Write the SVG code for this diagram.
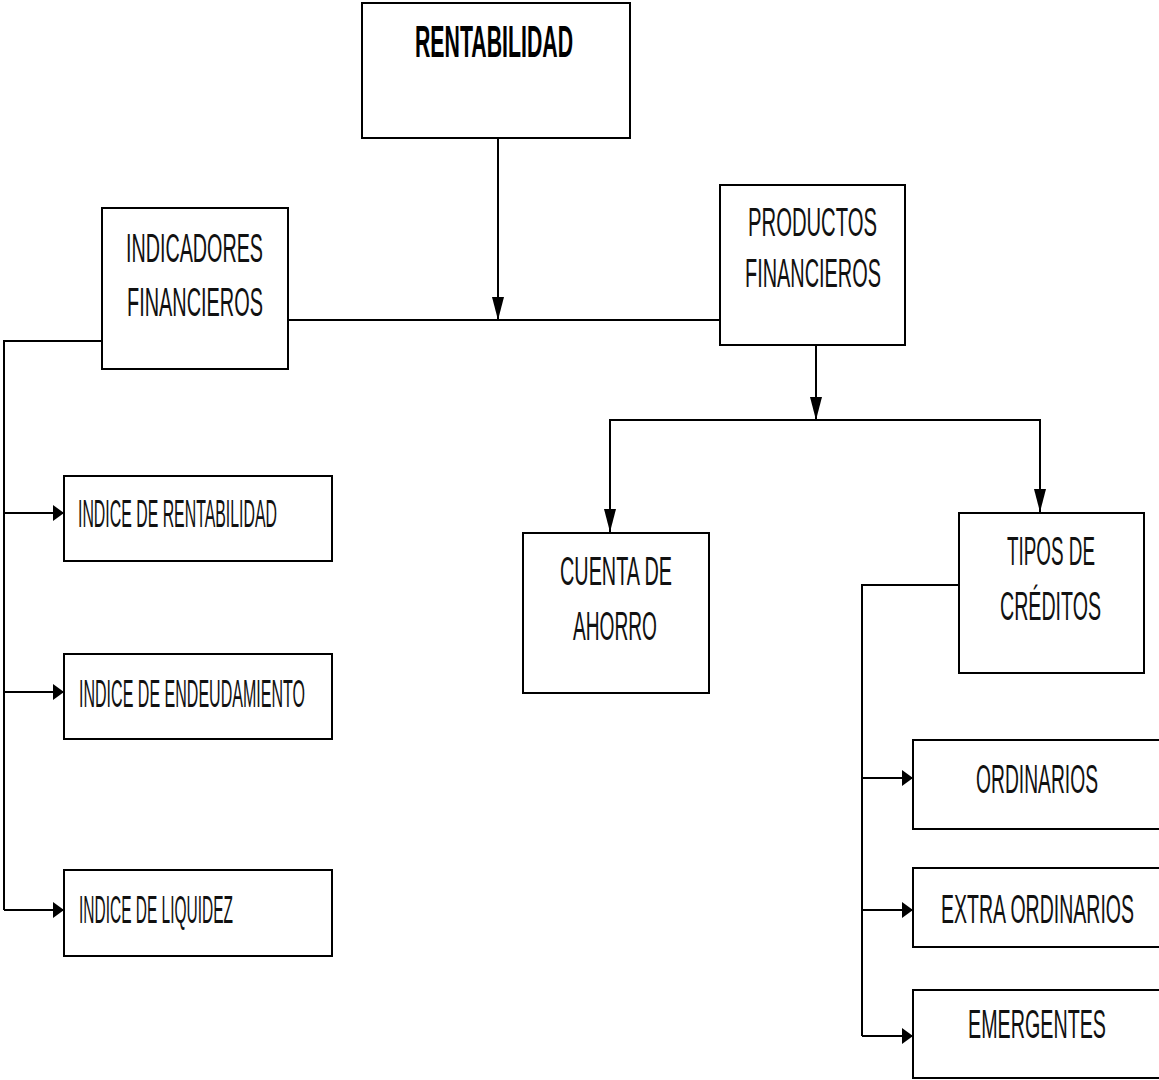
<svg xmlns="http://www.w3.org/2000/svg" width="1159" height="1080" viewBox="0 0 1159 1080">
<style>
.box{fill:#fff;stroke:#000;stroke-width:2}
.t{font-family:"Liberation Sans",Arial,sans-serif;fill:#111;font-size:41px}
.s{font-family:"Liberation Sans",Arial,sans-serif;fill:#111;font-size:38px}
.b{font-family:"Liberation Sans",Arial,sans-serif;fill:#000;font-size:44px;font-weight:bold}
.ln{fill:none;stroke:#000;stroke-width:2}
</style>
<defs>
<marker id="ad" markerWidth="12" markerHeight="24" refX="6" refY="23" orient="0" markerUnits="userSpaceOnUse">
<path d="M0,0 L12,0 L6,23 Z" fill="#000"/>
</marker>
<marker id="ar" markerWidth="12" markerHeight="18" refX="11" refY="9" orient="0" markerUnits="userSpaceOnUse">
<path d="M0,1 L11,9 L0,17 Z" fill="#000"/>
</marker>
</defs>
<rect width="1159" height="1080" fill="#fff"/>
<g id="connectors">
<line class="ln" x1="498" y1="139" x2="498" y2="320" marker-end="url(#ad)"/>
<line class="ln" x1="288" y1="320" x2="720" y2="320"/>
<polyline class="ln" points="102,341 4,341 4,910"/>
<line class="ln" x1="4" y1="513" x2="64" y2="513" marker-end="url(#ar)"/>
<line class="ln" x1="4" y1="692" x2="64" y2="692" marker-end="url(#ar)"/>
<line class="ln" x1="4" y1="910" x2="64" y2="910" marker-end="url(#ar)"/>
<line class="ln" x1="816" y1="346" x2="816" y2="420" marker-end="url(#ad)"/>
<polyline class="ln" points="610,532 610,420 1040,420 1040,512"/>
<line class="ln" x1="610" y1="500" x2="610" y2="532" marker-end="url(#ad)"/>
<line class="ln" x1="1040" y1="480" x2="1040" y2="512" marker-end="url(#ad)"/>
<polyline class="ln" points="959,585 862,585 862,1036"/>
<line class="ln" x1="862" y1="778" x2="913" y2="778" marker-end="url(#ar)"/>
<line class="ln" x1="862" y1="910" x2="913" y2="910" marker-end="url(#ar)"/>
<line class="ln" x1="862" y1="1036" x2="913" y2="1036" marker-end="url(#ar)"/>
</g>
<g id="rentabilidad">
<rect class="box" x="362" y="3" width="268" height="135"/>
<text class="b" x="415" y="57" textLength="158" lengthAdjust="spacingAndGlyphs">RENTABILIDAD</text>
</g>
<g id="indicadores">
<rect class="box" x="102" y="208" width="186" height="161"/>
<text class="t" x="126" y="262" textLength="137" lengthAdjust="spacingAndGlyphs">INDICADORES</text>
<text class="t" x="127" y="316" textLength="136" lengthAdjust="spacingAndGlyphs">FINANCIEROS</text>
</g>
<g id="productos">
<rect class="box" x="720" y="185" width="185" height="160"/>
<text class="t" x="748" y="236" textLength="129" lengthAdjust="spacingAndGlyphs">PRODUCTOS</text>
<text class="t" x="745" y="287" textLength="136" lengthAdjust="spacingAndGlyphs">FINANCIEROS</text>
</g>
<g id="indice-rentabilidad">
<rect class="box" x="64" y="476" width="268" height="85"/>
<text class="s" x="78" y="527" textLength="199" lengthAdjust="spacingAndGlyphs">INDICE DE RENTABILIDAD</text>
</g>
<g id="indice-endeudamiento">
<rect class="box" x="64" y="654" width="268" height="85"/>
<text class="s" x="79" y="707" textLength="226" lengthAdjust="spacingAndGlyphs">INDICE DE ENDEUDAMIENTO</text>
</g>
<g id="indice-liquidez">
<rect class="box" x="64" y="870" width="268" height="86"/>
<text class="s" x="79" y="923" textLength="154" lengthAdjust="spacingAndGlyphs">INDICE DE LIQUIDEZ</text>
</g>
<g id="cuenta-ahorro">
<rect class="box" x="523" y="533" width="186" height="160"/>
<text class="t" x="560" y="585" textLength="112" lengthAdjust="spacingAndGlyphs">CUENTA DE</text>
<text class="t" x="573" y="640" textLength="84" lengthAdjust="spacingAndGlyphs">AHORRO</text>
</g>
<g id="tipos-creditos">
<rect class="box" x="959" y="513" width="185" height="160"/>
<text class="t" x="1007" y="565" textLength="88" lengthAdjust="spacingAndGlyphs">TIPOS DE</text>
<text class="t" x="1000" y="620" textLength="101" lengthAdjust="spacingAndGlyphs">CRÉDITOS</text>
</g>
<g id="ordinarios">
<rect class="box" x="913" y="740" width="260" height="89"/>
<text class="t" x="976" y="793" textLength="122" lengthAdjust="spacingAndGlyphs">ORDINARIOS</text>
</g>
<g id="extra-ordinarios">
<rect class="box" x="913" y="868" width="260" height="79"/>
<text class="t" x="941" y="923" textLength="193" lengthAdjust="spacingAndGlyphs">EXTRA ORDINARIOS</text>
</g>
<g id="emergentes">
<rect class="box" x="913" y="990" width="260" height="88"/>
<text class="t" x="968" y="1038" textLength="138" lengthAdjust="spacingAndGlyphs">EMERGENTES</text>
</g>
</svg>
